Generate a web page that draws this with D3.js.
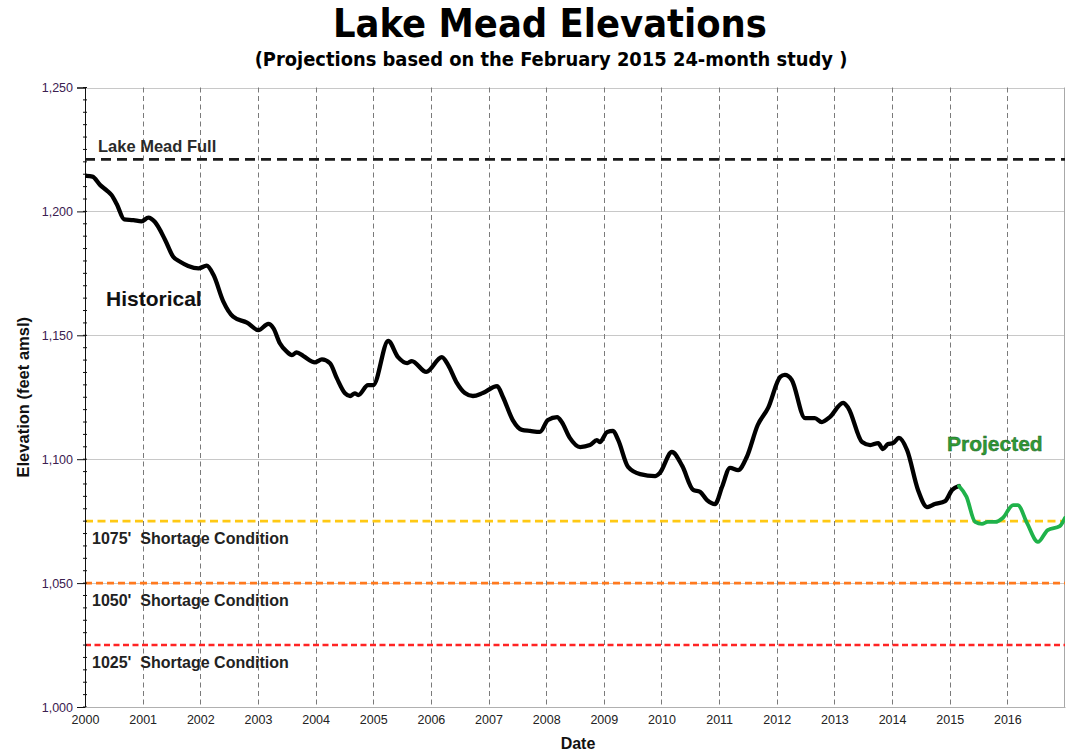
<!DOCTYPE html>
<html lang="en">
<head>
<meta charset="UTF-8">
<title>Lake Mead Elevations</title>
<style>
  body { margin: 0; background: #fff; }
  svg { display: block; font-family: "Liberation Sans", Arial, sans-serif; }
  .grid-y line { stroke: #c8c8c8; stroke-width: 1px; }
  .grid-x line { stroke: #7a7a7a; stroke-width: 1px; stroke-dasharray: 5,3.5; }
  .axis-y text { fill: #3b2050; font-size: 12px; }
  .axis-x text { fill: #222; font-size: 12.5px; }
  .ref-label { font-size: 16px; font-weight: bold; fill: #222; white-space: pre; }
  .title { font-family: "DejaVu Sans Condensed", "DejaVu Sans", sans-serif; font-weight: bold; fill: #000; }
</style>
</head>
<body>
<svg id="chart" width="1066" height="751"></svg>
<script src="https://cdn.jsdelivr.net/npm/d3@7/dist/d3.min.js"></script>
<script>
// historical elevations (decimal year, feet amsl)
const histYears = [2000.02, 2000.13, 2000.26, 2000.38, 2000.46, 2000.55, 2000.68, 2000.84, 2000.98,
  2001.10, 2001.21, 2001.39, 2001.53, 2001.65, 2001.79, 2001.97, 2002.11, 2002.23, 2002.40, 2002.57,
  2002.81, 2003.01, 2003.18, 2003.27, 2003.38, 2003.50, 2003.59, 2003.67, 2003.79, 2003.99, 2004.11,
  2004.25, 2004.37, 2004.51, 2004.60, 2004.68, 2004.74, 2004.91, 2005.00, 2005.26, 2005.43, 2005.59,
  2005.67, 2005.92, 2006.19, 2006.30, 2006.45, 2006.59, 2006.73, 2006.90, 2007.15, 2007.25, 2007.42,
  2007.58, 2007.72, 2007.89, 2008.03, 2008.19, 2008.27, 2008.41, 2008.59, 2008.76, 2008.88, 2008.93,
  2009.06, 2009.16, 2009.25, 2009.42, 2009.63, 2009.89, 2009.97, 2010.18, 2010.36, 2010.55, 2010.67,
  2010.79, 2010.93, 2011.05, 2011.19, 2011.33, 2011.48, 2011.67, 2011.85, 2012.06, 2012.14, 2012.26,
  2012.49, 2012.66, 2012.78, 2012.92, 2013.15, 2013.24, 2013.48, 2013.62, 2013.76, 2013.84, 2013.93,
  2014.02, 2014.12, 2014.26, 2014.45, 2014.61, 2014.74, 2014.92, 2015.04, 2015.16];
const histElev = [1214.3, 1214.0, 1210.7, 1208.4, 1206.6, 1203.0, 1196.8, 1196.5, 1196.0,
  1197.5, 1195.8, 1188.5, 1181.7, 1179.7, 1178.0, 1177.0, 1178.1, 1174.3, 1163.6, 1157.5,
  1155.1, 1152.1, 1154.6, 1152.8, 1146.8, 1143.4, 1142.0, 1143.1, 1141.6, 1139.1, 1140.3,
  1138.7, 1132.6, 1126.6, 1125.5, 1126.6, 1125.9, 1129.9, 1129.9, 1147.7, 1141.2, 1138.8,
  1139.6, 1135.2, 1141.2, 1138.0, 1130.8, 1126.7, 1125.5, 1126.7, 1129.5, 1125.1, 1115.8,
  1111.8, 1111.4, 1111.0, 1115.8, 1117.0, 1115.0, 1108.6, 1104.9, 1105.7, 1107.7, 1106.9,
  1111.0, 1111.4, 1107.7, 1096.9, 1094.0, 1093.2, 1094.4, 1102.9, 1097.3, 1087.6, 1086.8,
  1083.5, 1081.9, 1088.8, 1096.5, 1095.6, 1100.9, 1113.8, 1120.7, 1133.2, 1134.0, 1132.0,
  1116.6, 1116.6, 1115.0, 1117.0, 1122.7, 1120.7, 1106.9, 1105.7, 1106.5, 1104.1, 1106.1,
  1106.5, 1108.6, 1103.7, 1087.6, 1080.7, 1081.9, 1083.1, 1087.6, 1089.2];

// projected elevations, February 2015 24-month study
const projYears = [2015.16, 2015.29, 2015.44, 2015.56, 2015.66, 2015.79, 2015.92, 2016.10, 2016.18,
  2016.34, 2016.53, 2016.70, 2016.91, 2017.00];
const projElev = [1089.2, 1084.9, 1074.7, 1073.9, 1074.7, 1074.7, 1076.3, 1081.5, 1081.5,
  1074.3, 1066.6, 1071.4, 1073.0, 1076.3];

const yearTicks = [2000, 2001, 2002, 2003, 2004, 2005, 2006, 2007, 2008, 2009, 2010, 2011, 2012,
  2013, 2014, 2015, 2016];
const elevTicks = [1000, 1050, 1100, 1150, 1200, 1250];

const refLevels = [1221, 1075, 1050, 1025];
const refLabels = ["Lake Mead Full", "1075'  Shortage Condition", "1050'  Shortage Condition", "1025'  Shortage Condition"];

const refStyle = [
  { color: "#1a1a1a", dash: "10,6", above: true },
  { color: "#ffc914", dash: "8,4.5", above: false },
  { color: "#ff7a1f", dash: "7,4", above: false },
  { color: "#ff2424", dash: "6,3.5", above: false }
];

const margin = { top: 87.5, right: 1, bottom: 44, left: 85 };
const W = 1066, H = 751;
const svg = d3.select("#chart");

const x = d3.scaleLinear().domain([2000, 2017]).range([margin.left, W - margin.right]);
const y = d3.scaleLinear().domain([1000, 1250]).range([H - margin.bottom, margin.top]);

svg.append("defs").append("clipPath").attr("id", "plot-clip")
  .append("rect")
  .attr("x", x(2000)).attr("y", y(1250))
  .attr("width", x(2017) - x(2000)).attr("height", y(1000) - y(1250));

// horizontal grid
svg.append("g").attr("class", "grid-y")
  .selectAll("line").data(elevTicks).join("line")
  .attr("x1", x(2000)).attr("x2", x(2017))
  .attr("y1", d => Math.round(y(d)) + 0.5).attr("y2", d => Math.round(y(d)) + 0.5);

// vertical dashed grid
svg.append("g").attr("class", "grid-x")
  .selectAll("line").data(yearTicks.filter(d => d > 2000)).join("line")
  .attr("x1", d => Math.round(x(d)) + 0.5).attr("x2", d => Math.round(x(d)) + 0.5)
  .attr("y1", y(1250)).attr("y2", y(1000));

// right border
svg.append("line")
  .attr("x1", x(2017) - 0.5).attr("x2", x(2017) - 0.5)
  .attr("y1", y(1250)).attr("y2", y(1000))
  .attr("stroke", "#a8a8a8");

// reference levels
const refs = svg.append("g").attr("class", "refs");
refs.selectAll("line").data(refLevels).join("line")
  .attr("x1", x(2000)).attr("x2", x(2017))
  .attr("y1", d => y(d)).attr("y2", d => y(d))
  .attr("stroke", (d, i) => refStyle[i].color)
  .attr("stroke-width", 2.6)
  .attr("stroke-dasharray", (d, i) => refStyle[i].dash);

refs.selectAll("text").data(refLevels).join("text")
  .attr("class", "ref-label")
  .attr("x", (d, i) => i === 0 ? 98 : 92)
  .attr("y", (d, i) => refStyle[i].above ? y(d) - 7 : y(d) + 23)
  .style("font-size", (d, i) => i === 0 ? "16.5px" : "16px")
  .style("fill", (d, i) => i === 0 ? "#2a2a2a" : "#222")
  .text((d, i) => refLabels[i]);

// axes
const yAxis = svg.append("g").attr("class", "axis-y")
  .attr("transform", `translate(${x(2000)},0)`)
  .call(d3.axisLeft(y).tickValues(elevTicks).tickFormat(d3.format(",")).tickSize(8).tickPadding(4));
yAxis.select(".domain").attr("stroke", "#111");
yAxis.selectAll(".tick line").attr("stroke", "#111");
yAxis.selectAll(".tick text").style("font-size", "12.5px").attr("fill", "#3b2050");

// minor ticks every 5 ft
svg.append("g").selectAll("line").data(y.ticks(50)).join("line")
  .attr("x1", x(2000) - 2).attr("x2", x(2000) + 2)
  .attr("y1", d => y(d)).attr("y2", d => y(d))
  .attr("stroke", "#111");

const xAxis = svg.append("g").attr("class", "axis-x")
  .attr("transform", `translate(0,${y(1000)})`)
  .call(d3.axisBottom(x).tickValues(yearTicks).tickFormat(d3.format("d")).tickSize(0).tickPadding(8));
xAxis.select(".domain").attr("stroke", "#b0b0b0");
xAxis.selectAll(".tick text").style("font-size", "12.5px").attr("fill", "#222");

// series
const line = d3.line().curve(d3.curveMonotoneX);
const plot = svg.append("g").attr("clip-path", "url(#plot-clip)");

plot.append("path")
  .attr("d", line(histYears.map((t, i) => [x(t), y(histElev[i])])))
  .attr("fill", "none").attr("stroke", "#000")
  .attr("stroke-width", 4.3).attr("stroke-linejoin", "round").attr("stroke-linecap", "round");

plot.append("path")
  .attr("d", line(projYears.map((t, i) => [x(t), y(projElev[i])])))
  .attr("fill", "none").attr("stroke", "#1fb24a")
  .attr("stroke-width", 3.8).attr("stroke-linejoin", "round").attr("stroke-linecap", "round");

// series labels
svg.append("text").attr("x", 106).attr("y", 306)
  .attr("font-size", 21).attr("font-weight", "bold").attr("fill", "#111")
  .text("Historical");
svg.append("text").attr("x", 947).attr("y", 451)
  .attr("font-size", 21).attr("font-weight", "bold").attr("fill", "#2e9a36")
  .attr("stroke", "#1d5a20").attr("stroke-width", 0.4)
  .text("Projected");

// axis titles
svg.append("text")
  .attr("transform", `translate(29,${(y(1000) + y(1250)) / 2}) rotate(-90)`)
  .attr("text-anchor", "middle").attr("font-size", 16.5).attr("font-weight", "bold").attr("fill", "#111")
  .text("Elevation (feet amsl)");
svg.append("text").attr("x", 578).attr("y", 749)
  .attr("text-anchor", "middle").attr("font-size", 16).attr("font-weight", "bold").attr("fill", "#111")
  .text("Date");

// titles, sized to the span they take in the original
function fitTitle(txt, cx, baseY, targetW, base) {
  const t = svg.append("text").attr("class", "title")
    .attr("x", cx).attr("y", baseY).attr("text-anchor", "middle")
    .attr("font-size", base).text(txt);
  const w = t.node().getComputedTextLength();
  t.attr("font-size", base * targetW / w);
}
fitTitle("Lake Mead Elevations", 550, 37, 434, 36);
fitTitle("(Projections based on the February 2015 24-month study )", 551, 66, 593, 18);
</script>
</body>
</html>
